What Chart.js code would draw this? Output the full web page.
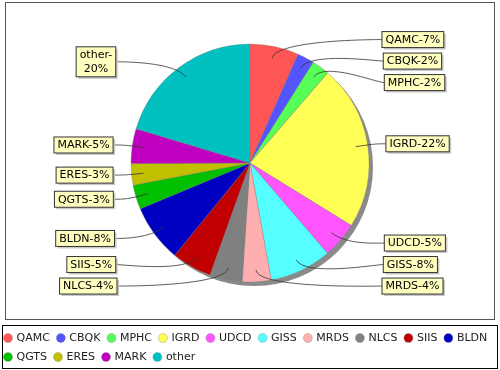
<!DOCTYPE html>
<html>
<head>
<meta charset="utf-8">
<script src="https://cdn.jsdelivr.net/npm/chart.js@4.4.1/dist/chart.umd.min.js"></script>
<style>
  html, body { margin: 0; padding: 0; background: #fff; }
  canvas { display: block; }
</style>
</head>
<body>
<canvas id="grafico" width="500" height="370"></canvas>
<script>
// datos (porcentaje aproximado de cada sector)
const categorias = ['QAMC', 'CBQK', 'MPHC', 'IGRD', 'UDCD', 'GISS', 'MRDS', 'NLCS', 'SIIS', 'BLDN', 'QGTS', 'ERES', 'MARK', 'other'];
const valores = [6.6, 2.3, 2.4, 22.4, 4.9, 8.4, 3.9, 4.4, 5.4, 7.8, 3.3, 2.9, 4.7, 20.3];
const colores = ['#ff5555', '#5555ff', '#55ff55', '#ffff55', '#ff55ff', '#55ffff', '#ffafaf',
                 '#808080', '#c00000', '#0000c0', '#00c000', '#c0c000', '#c000c0', '#00c0c0'];

const FUENTE = '11px "DejaVu Sans"';

// marco del área del gráfico, sombra del pastel y caja de la leyenda
const fondo = {
    id: 'fondo',
    afterLayout(chart) {
        const l = chart.legend;
        l.left -= 3; l.right -= 3;
        l.top += 2.5; l.bottom += 2.5;
    },
    beforeDraw(chart) {
        const { ctx, chartArea: a } = chart;
        const l = chart.legend;
        ctx.save();
        ctx.fillStyle = '#fff';
        ctx.fillRect(0, 0, chart.width, chart.height);
        ctx.strokeStyle = '#555';
        ctx.lineWidth = 1;
        ctx.strokeRect(a.left + 5.5, a.top - 1.5, a.width - 11, a.height - 1);
        ctx.strokeStyle = '#000';
        ctx.strokeRect(l.left + 5.5, l.top + 1, l.width - 5, l.height - 5);
        ctx.restore();
    },
    beforeDatasetsDraw(chart) {
        const arc = chart.getDatasetMeta(0).data[0];
        if (!arc) return;
        const { ctx } = chart;
        ctx.save();
        ctx.fillStyle = '#8a8a8a';
        ctx.beginPath();
        ctx.arc(arc.x + 4, arc.y + 4, arc.outerRadius, 0, Math.PI * 2);
        ctx.fill();
        ctx.restore();
    }
};

// etiquetas con caja amarilla y líneas de enlace curvas
const etiquetas = {
    id: 'etiquetas',
    afterDatasetsDraw(chart) {
        const { ctx } = chart;
        const arcos = chart.getDatasetMeta(0).data;
        if (!arcos.length) return;
        const cx = arcos[0].x, cy = arcos[0].y, R = arcos[0].outerRadius;
        const total = valores.reduce((s, v) => s + v, 0);
        const rEnlace = R * 1.06;
        const limite = R * 1.034;
        ctx.save();
        ctx.font = FUENTE;

        const items = arcos.map((arc, i) => {
            const mid = (arc.startAngle + arc.endAngle) / 2;
            const pct = Math.round(valores[i] / total * 100);
            const texto = categorias[i] + '-' + pct + '%';
            let lineas = [texto];
            if (ctx.measureText(texto).width > 57) {
                const k = texto.indexOf('-') + 1;
                lineas = [texto.slice(0, k), texto.slice(k)];
            }
            const w = Math.max(...lineas.map(t => ctx.measureText(t).width)) + 7;
            const h = lineas.length * 14 + 2;
            return {
                lineas, w, h, mid,
                lado: Math.cos(mid) >= 0 ? 1 : -1,
                y: cy + Math.sin(mid) * rEnlace
            };
        });

        const repartir = lista => {
            lista.sort((a, b) => a.y - b.y);
            const sep = 5.5;
            for (let i = 1; i < lista.length; i++) {
                const p = lista[i - 1], q = lista[i];
                const min = p.y + p.h / 2 + sep + q.h / 2;
                if (q.y < min) q.y = Math.min(min, cy + limite);
            }
            for (let i = lista.length - 2; i >= 0; i--) {
                const p = lista[i], q = lista[i + 1];
                const max = q.y - q.h / 2 - sep - p.h / 2;
                if (p.y > max) p.y = Math.max(max, cy - limite);
            }
        };
        repartir(items.filter(it => it.lado > 0));
        repartir(items.filter(it => it.lado < 0));

        items.forEach(it => {
            const t = (it.y - cy) / limite;
            const borde = cx + it.lado * (R + (it.lado > 0 ? 17 : 18) - 4 * t * t);
            const linkX = cx + Math.cos(it.mid) * R * 0.9;
            const linkY = cy + Math.sin(it.mid) * R * 0.9;
            const codoX = cx + Math.cos(it.mid) * rEnlace;
            const codoY = cy + Math.sin(it.mid) * rEnlace;
            const anclaX = cx + it.lado * rEnlace;

            ctx.strokeStyle = '#333';
            ctx.lineWidth = 0.8;
            ctx.beginPath();
            ctx.moveTo(borde, it.y);
            ctx.bezierCurveTo(anclaX, it.y, codoX, codoY, linkX, linkY);
            ctx.stroke();

            const x0 = it.lado > 0 ? borde : borde - it.w;
            const y0 = it.y - it.h / 2;
            ctx.fillStyle = '#c8c8c8';
            ctx.fillRect(x0 + 2, y0 + 2, it.w, it.h);
            ctx.fillStyle = '#ffffc0';
            ctx.fillRect(x0, y0, it.w, it.h);
            ctx.strokeStyle = '#333';
            ctx.lineWidth = 1;
            ctx.strokeRect(x0, y0, it.w, it.h);

            ctx.fillStyle = '#000';
            ctx.textAlign = 'center';
            ctx.textBaseline = 'middle';
            it.lineas.forEach((linea, j) => {
                const ly = it.y + (j - (it.lineas.length - 1) / 2) * 14;
                ctx.fillText(linea, x0 + it.w / 2, ly + 0.5);
            });
        });
        ctx.restore();
    }
};

new Chart(document.getElementById('grafico'), {
    type: 'pie',
    data: {
        labels: categorias,
        datasets: [{
            data: valores,
            backgroundColor: colores,
            borderColor: 'rgba(128,128,128,0.7)',
            borderWidth: 0.5,
            radius: 119
        }]
    },
    options: {
        responsive: false,
        animation: false,
        events: [],
        layout: { padding: { top: 4, left: 0, right: 0, bottom: 0 } },
        plugins: {
            legend: {
                position: 'bottom',
                align: 'start',
                labels: {
                    usePointStyle: true,
                    pointStyle: 'circle',
                    boxWidth: 6,
                    boxHeight: 6.4,
                    padding: 8,
                    color: '#222',
                    font: { family: 'DejaVu Sans', size: 11 }
                }
            },
            tooltip: { enabled: false }
        }
    },
    plugins: [fondo, etiquetas]
});
</script>
</body>
</html>
